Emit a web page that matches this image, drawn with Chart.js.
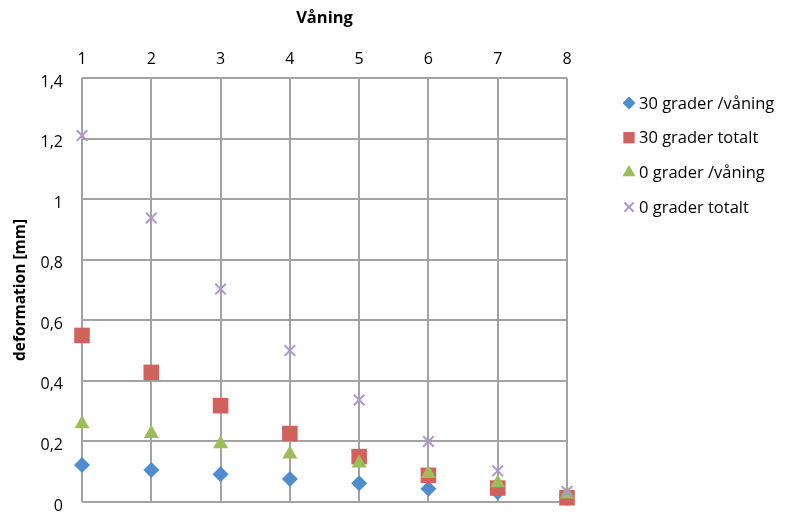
<!DOCTYPE html>
<html>
<head>
<meta charset="utf-8">
<script src="https://cdn.jsdelivr.net/npm/chart.js@4/dist/chart.umd.min.js"></script>
<style>
  html, body { margin: 0; padding: 0; background: #ffffff; }
  #wrap { width: 786px; height: 513px; position: relative; }
</style>
</head>
<body>
<div id="wrap"><canvas id="chart" width="786" height="513"></canvas></div>
<script>
// Floors (Våning) and deformation values in mm
const floors = ['1', '2', '3', '4', '5', '6', '7', '8'];
const grader30PerFloor = [0.122, 0.106, 0.092, 0.076, 0.062, 0.044, 0.032, 0.014];
const grader30Total    = [0.550, 0.428, 0.318, 0.226, 0.150, 0.088, 0.046, 0.014];
const grader0PerFloor  = [0.258, 0.226, 0.192, 0.158, 0.128, 0.094, 0.063, 0.026];
const grader0Total     = [1.210, 0.938, 0.703, 0.500, 0.337, 0.200, 0.103, 0.035];
const seriesNames = ['30 grader /våning', '30 grader totalt', '0 grader /våning', '0 grader totalt'];

const FONT = '"Open Sans", Lato, "Liberation Sans", sans-serif';

const styles = [
  { color: '#4f8dcf', pointStyle: 'rectRot',  radius: 8,   border: 0, order: 4 },
  { color: '#d0615c', pointStyle: 'rect',     radius: 11,  border: 0, order: 3 },
  { color: '#9cbd5a', pointStyle: 'triangle', radius: 8.7, border: 0, order: 2 },
  { color: '#ad96cf', pointStyle: 'crossRot', radius: 7.5, border: 2, order: 1 }
];
const values = [grader30PerFloor, grader30Total, grader0PerFloor, grader0Total];

const datasets = values.map((v, i) => ({
  label: seriesNames[i],
  data: v,
  showLine: false,
  pointStyle: styles[i].pointStyle,
  pointRadius: styles[i].radius,
  pointHoverRadius: styles[i].radius,
  backgroundColor: styles[i].color,
  borderColor: styles[i].color,
  pointBorderWidth: styles[i].border,
  borderWidth: styles[i].border,
  order: styles[i].order,
  clip: false
}));

// Legend drawn beside the plot area
const sideLegend = {
  id: 'sideLegend',
  afterDraw(chart) {
    const ctx = chart.ctx;
    const x0 = 629, y0 = 103, step = 34.7;
    ctx.save();
    seriesNames.forEach((name, i) => {
      const y = y0 + i * step;
      const st = styles[i];
      const legendRadius = { rectRot: 6.5, rect: 8, triangle: 7.5, crossRot: 6.5 }[st.pointStyle];
      ctx.fillStyle = st.color;
      ctx.strokeStyle = st.color;
      ctx.lineWidth = st.border || 1;
      Chart.helpers.drawPoint(ctx, {
        pointStyle: st.pointStyle, radius: legendRadius, rotation: 0, borderWidth: st.border
      }, x0, y);
      ctx.fillStyle = '#000000';
      ctx.font = '16.5px ' + FONT;
      ctx.textBaseline = 'middle';
      ctx.textAlign = 'left';
      ctx.fillText(name, x0 + 10, y + 1);
    });
    ctx.restore();
  }
};

new Chart(document.getElementById('chart'), {
  type: 'line',
  data: { labels: floors, datasets },
  options: {
    responsive: false,
    animation: false,
    layout: { padding: { left: 0, top: 0, right: 219, bottom: 6 } },
    plugins: { legend: { display: false }, tooltip: { enabled: false } },
    scales: {
      x: {
        type: 'category',
        position: 'top',
        offset: false,
        afterFit(scale) { scale.height = 78; scale.paddingLeft = 0; scale.paddingRight = 0; },
        grid: { color: '#a3a3a3', lineWidth: 2, drawTicks: false, offset: false },
        border: { display: false },
        ticks: { color: '#000000', padding: 9, font: { family: FONT, size: 16 } },
        title: {
          display: true, text: 'Våning', color: '#000000',
          padding: { top: 8, bottom: 0 },
          font: { family: FONT, size: 16.5, weight: 'bold' }
        }
      },
      y: {
        min: 0,
        max: 1.4,
        afterFit(scale) { scale.width = 82; scale.paddingTop = 0; scale.paddingBottom = 0; },
        grid: { color: '#a3a3a3', lineWidth: 2, drawTicks: false },
        border: { display: false },
        ticks: {
          stepSize: 0.2,
          color: '#000000',
          padding: 19,
          labelOffset: 4,
          font: { family: FONT, size: 16 },
          callback: (v) => String(Math.round(v * 10) / 10).replace('.', ',')
        },
        title: {
          display: true, text: 'deformation [mm]', color: '#000000',
          padding: { top: 11, bottom: 0 },
          font: { family: FONT, size: 15.5, weight: 'bold' }
        }
      }
    }
  },
  plugins: [sideLegend]
});
</script>
</body>
</html>
